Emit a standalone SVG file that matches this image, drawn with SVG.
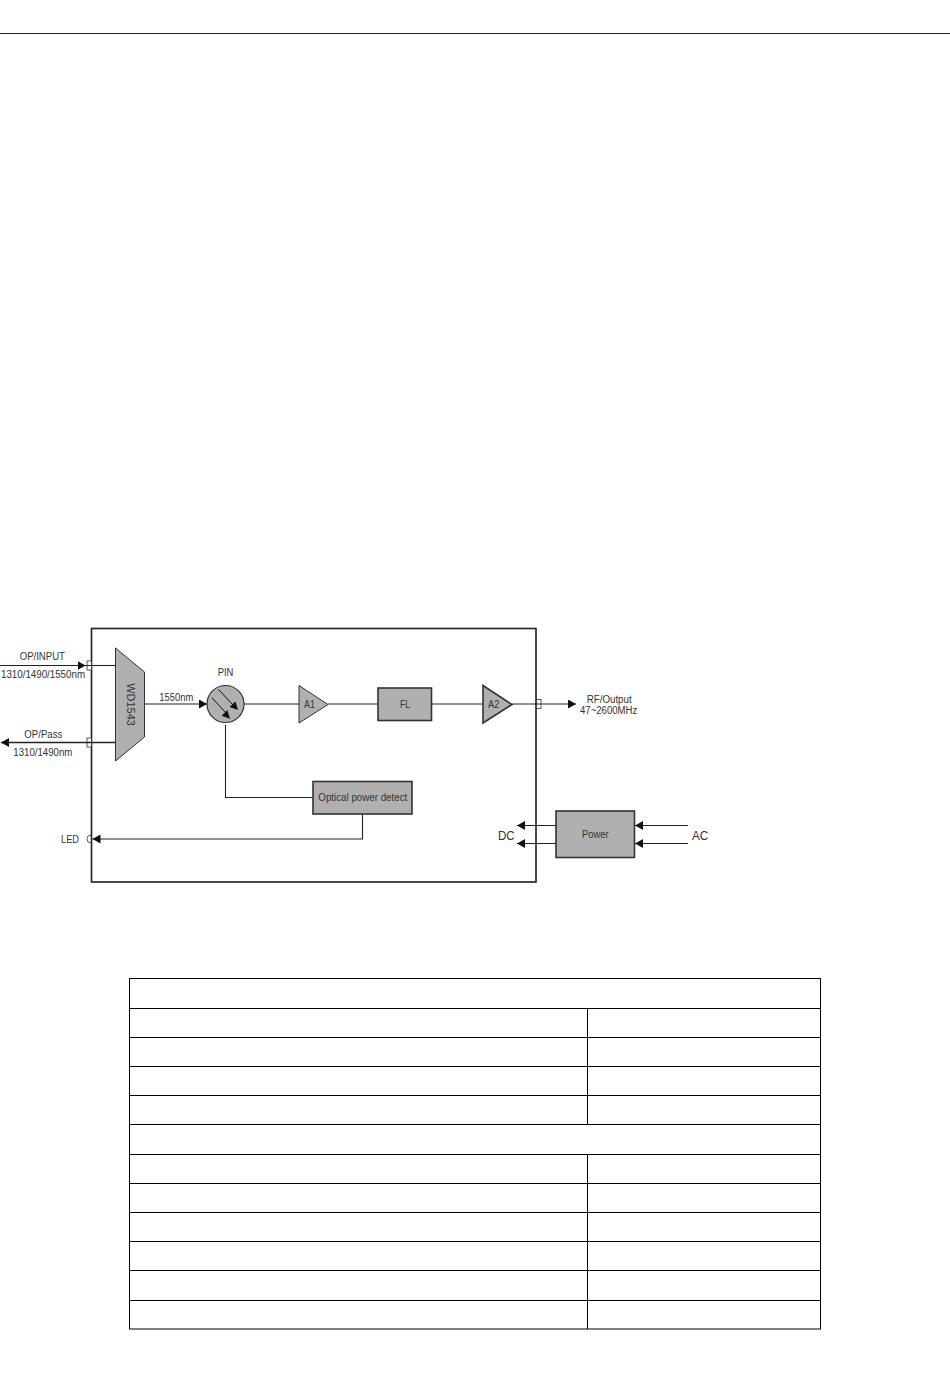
<svg xmlns="http://www.w3.org/2000/svg" width="950" height="1397" viewBox="0 0 950 1397">
<defs>
<marker id="arr" markerUnits="userSpaceOnUse" markerWidth="9" markerHeight="10" refX="8" refY="4.500" orient="auto"><path d="M0 0L8 4.500L0 9Z" fill="#111"/></marker>
</defs>
<style>
text{font-family:"Liberation Sans",Arial,sans-serif;fill:#333;font-size:10px}
.n{fill:#b0b0b0;stroke:#333;stroke-width:1.6}
.l{fill:none;stroke:#222;stroke-width:1.1}
.t{fill:none;stroke:#000;stroke-width:1}
.p{fill:#fff;stroke:#333;stroke-width:.8}
.b{font-size:12.500px}
</style>
<rect width="950" height="1397" fill="#fff"/>
<line x1="0" y1="33.500" x2="950" y2="33.500" stroke="#222" stroke-width="1"/>
<g id="enclosure"><rect x="91.500" y="628.500" width="444.500" height="253.500" fill="none" stroke="#2a2a2a" stroke-width="1.700"/></g>
<g id="port-in"><rect class="p" x="87" y="661" width="4.500" height="9"/></g>
<g id="port-pass"><rect class="p" x="87" y="738" width="4.500" height="9"/></g>
<g id="port-out"><rect class="p" x="536.500" y="699.500" width="4.500" height="9"/></g>
<g id="connectors">
<path class="l" d="M0 665.500H85.500" marker-end="url(#arr)"/>
<path class="l" d="M85 665.500H115.500"/>
<path class="l" d="M115.500 742.500H1" style="stroke-width:1.400" marker-end="url(#arr)"/>
<path class="l" d="M145 704H207" marker-end="url(#arr)"/>
<path class="l" d="M244 704H299"/>
<path class="l" d="M328 704H378"/>
<path class="l" d="M431.500 704H483"/>
<path class="l" d="M512 704H576" marker-end="url(#arr)"/>
<path class="l" d="M225.500 725V797.500H313"/>
<path class="l" d="M362.500 814V839H92.500" marker-end="url(#arr)"/>
<path class="l" d="M556 825.500H517" marker-end="url(#arr)"/>
<path class="l" d="M556 843.500H517" marker-end="url(#arr)"/>
<path class="l" d="M688 825.500H635" marker-end="url(#arr)"/>
<path class="l" d="M688 843.500H635" marker-end="url(#arr)"/>
</g>
<g id="led"><path d="M91 835A4 4 0 0 0 91 843" fill="none" stroke="#333" stroke-width=".8"/><text x="61" y="843" textLength="18" lengthAdjust="spacingAndGlyphs">LED</text></g>
<g id="wdm"><path class="n" d="M115.500 648L144.500 672V737L115.500 761Z" style="stroke-width:1"/><text transform="translate(126.500 683.300) rotate(90)" textLength="42.500" lengthAdjust="spacingAndGlyphs">WD1543</text></g>
<g id="pin"><circle class="n" cx="225.500" cy="704" r="18.500" style="stroke-width:1.200"/>
<path d="M218.500 689.500L234 706M211.700 697.500L226 713" stroke="#111" stroke-width="1"/>
<path d="M238 710L229.600 707L235.400 701.400ZM230 718.700L221.600 715.700L227.400 710.100Z" fill="#111"/>
<text x="217.700" y="676" textLength="15.700" lengthAdjust="spacingAndGlyphs">PIN</text></g>
<g id="a1"><path class="n" d="M299 685.500L328 704.500L299 723Z" style="stroke-width:1"/><text x="304" y="708.300" textLength="11" lengthAdjust="spacingAndGlyphs">A1</text></g>
<g id="fl"><rect class="n" x="378" y="688" width="53.500" height="32.500"/><text x="400" y="708.300" textLength="10" lengthAdjust="spacingAndGlyphs">FL</text></g>
<g id="a2"><path class="n" d="M483 685.500L512 704.500L483 723Z"/><text x="488" y="708.300" textLength="11.300" lengthAdjust="spacingAndGlyphs">A2</text></g>
<g id="detect"><rect class="n" x="313" y="781.500" width="99" height="32.500"/><text x="318.300" y="801" textLength="89" lengthAdjust="spacingAndGlyphs">Optical power detect</text></g>
<g id="power"><rect class="n" x="556" y="811" width="78.500" height="46.500"/><text x="582" y="838.300" textLength="26.700" lengthAdjust="spacingAndGlyphs">Power</text></g>
<g id="labels">
<text x="19.700" y="660" textLength="45.300" lengthAdjust="spacingAndGlyphs">OP/INPUT</text>
<text x="1" y="678.300" textLength="84" lengthAdjust="spacingAndGlyphs">1310/1490/1550nm</text>
<text x="24.300" y="737.700" textLength="38" lengthAdjust="spacingAndGlyphs">OP/Pass</text>
<text x="13.300" y="755.500" textLength="59" lengthAdjust="spacingAndGlyphs">1310/1490nm</text>
<text x="159.300" y="701" textLength="34" lengthAdjust="spacingAndGlyphs">1550nm</text>
<text x="586.700" y="702.700" textLength="45" lengthAdjust="spacingAndGlyphs">RF/Output</text>
<text x="580" y="714" textLength="57.300" lengthAdjust="spacingAndGlyphs">47~2600MHz</text>
<text class="b" x="498" y="839.700" textLength="16.700" lengthAdjust="spacingAndGlyphs">DC</text>
<text class="b" x="692" y="839.700" textLength="16.300" lengthAdjust="spacingAndGlyphs">AC</text>
</g>
<g id="table">
<rect class="t" x="129.500" y="978.500" width="691" height="350.500"/>
<path class="t" d="M130 1008.500H820M130 1037.500H820M130 1066.500H820M130 1095.500H820M130 1124.500H820M130 1154.500H820M130 1183.500H820M130 1212.500H820M130 1241.500H820M130 1270.500H820M130 1300.500H820"/>
<path class="t" d="M587.500 1008.500V1124.500M587.500 1154.500V1329"/>
</g>
</svg>
